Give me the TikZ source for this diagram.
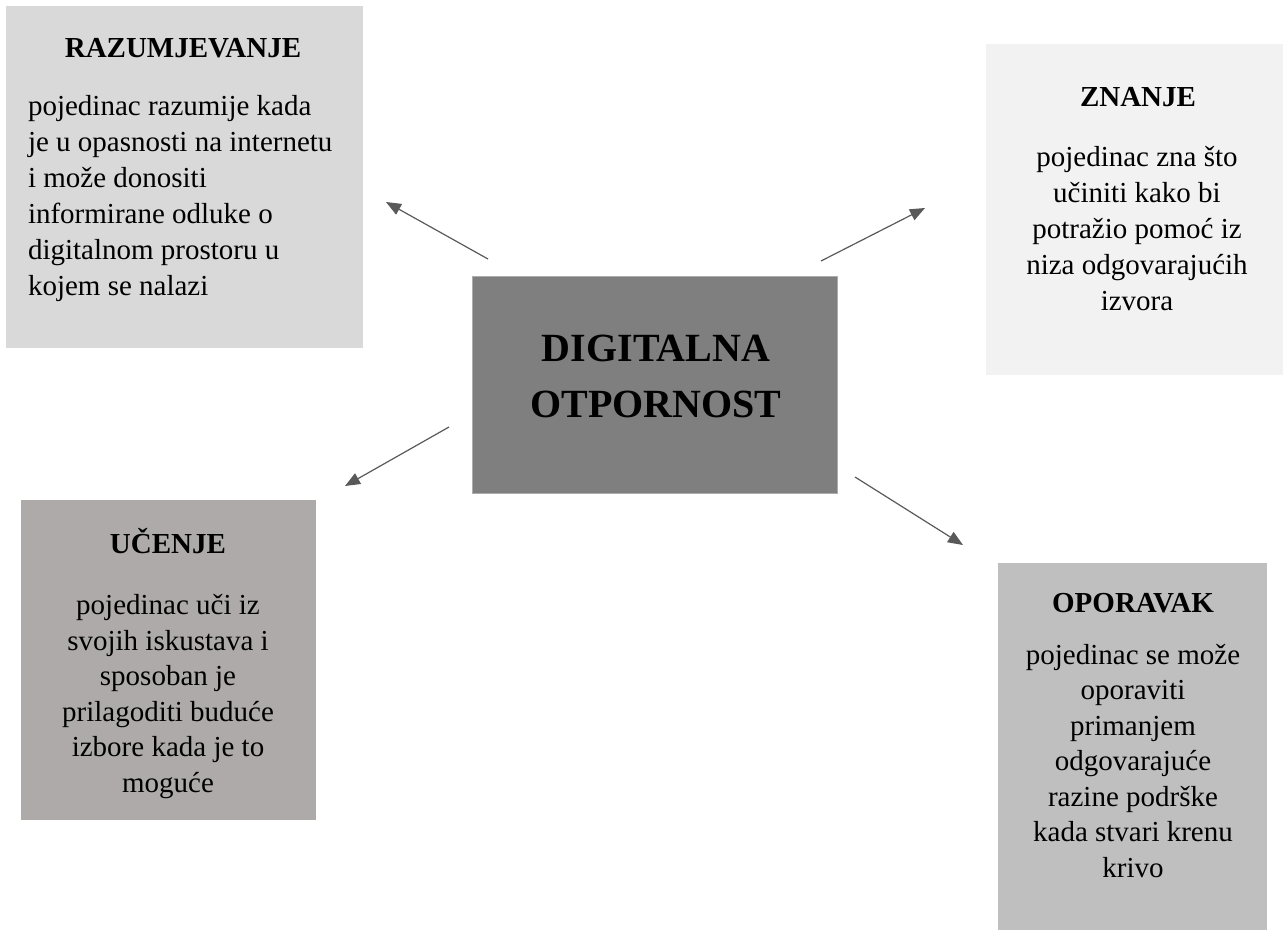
\documentclass[tikz,border=0pt]{standalone}
\usepackage{fontspec}
\setmainfont{Liberation Serif}
\usetikzlibrary{arrows.meta,positioning}

\definecolor{razumC}{HTML}{D9D9D9}
\definecolor{znanjeC}{HTML}{F2F2F2}
\definecolor{centarC}{HTML}{7F7F7F}
\definecolor{ucenjeC}{HTML}{AEAAAA}
\definecolor{oporavakC}{HTML}{BFBFBF}
\definecolor{strelicaC}{HTML}{595959}

\begin{document}
\begin{tikzpicture} [ x=1pt, y=-1pt,
		      every node/.style={inner sep=0pt, outer sep=0pt},
		      box/.style={anchor=north west, rectangle},
		      naslov/.style={anchor=base, font=\fontsize{29}{36}\selectfont\bfseries},
		      tekst/.style={anchor=base, font=\fontsize{29}{36}\selectfont},
		      strelica/.style={draw=strelicaC, line width=1.2pt, -{Triangle[length=15pt,width=12pt]}}
		    ]
  \useasboundingbox (0,0) rectangle (1283,930);

  % okviri
  \node[box, fill=razumC, minimum width=357pt, minimum height=342pt] (razum) at (6,6) {};
  \node[box, fill=znanjeC, minimum width=297pt, minimum height=331pt] (znanje) at (986,44) {};
  \node[box, fill=centarC, draw=gray!65, line width=0.6pt, minimum width=365pt, minimum height=217pt] (digi) at (472,276) {};
  \node[box, fill=ucenjeC, minimum width=295pt, minimum height=320pt] (ucenje) at (21,500) {};
  \node[box, fill=oporavakC, minimum width=269pt, minimum height=367pt] (oporavak) at (998,563) {};

  % naslovi
  \node[naslov] (razumT) at (183,57) {RAZUMJEVANJE};
  \node[naslov] (znanjeT) at (1138,106) {ZNANJE};
  \node[naslov] (ucenjeT) at (168,553) {UČENJE};
  \node[naslov] (oporavakT) at (1133,612) {OPORAVAK};
  \node[anchor=base, font=\fontsize{40}{56}\selectfont\bfseries] (digiT1) at (656,361) {DIGITALNA};
  \node[anchor=base, font=\fontsize{40}{56}\selectfont\bfseries] (digiT2) at (656,417) {OTPORNOST};

  % tekstovi (base = zadnji redak)
  \node[tekst, anchor=base west, align=left] (razumB) at (28,295)
    {pojedinac razumije kada\\je u opasnosti na internetu\\i može donositi\\informirane odluke o\\digitalnom prostoru u\\kojem se nalazi};
  \node[tekst, align=center] (znanjeB) at (1137,310)
    {pojedinac zna što\\učiniti kako bi\\potražio pomoć iz\\niza odgovarajućih\\izvora};
  \node[tekst, align=center, font=\fontsize{29}{35.5}\selectfont] (ucenjeB) at (168,792)
    {pojedinac uči iz\\svojih iskustava i\\sposoban je\\prilagoditi buduće\\izbore kada je to\\moguće};
  \node[tekst, align=center, font=\fontsize{29}{35.5}\selectfont] (oporavakB) at (1133,877)
    {pojedinac se može\\oporaviti\\primanjem\\odgovarajuće\\razine podrške\\kada stvari krenu\\krivo};

  % strelice
  \coordinate (ul1) at (488,259);
  \coordinate (ul2) at (386,202);
  \coordinate (ur1) at (821,261);
  \coordinate (ur2) at (925,208);
  \coordinate (ll1) at (449,427);
  \coordinate (ll2) at (345,486);
  \coordinate (lr1) at (855,477);
  \coordinate (lr2) at (963,545);
  \draw[strelica] (ul1) -- (ul2);
  \draw[strelica] (ur1) -- (ur2);
  \draw[strelica] (ll1) -- (ll2);
  \draw[strelica] (lr1) -- (lr2);
\end{tikzpicture}
\end{document}
